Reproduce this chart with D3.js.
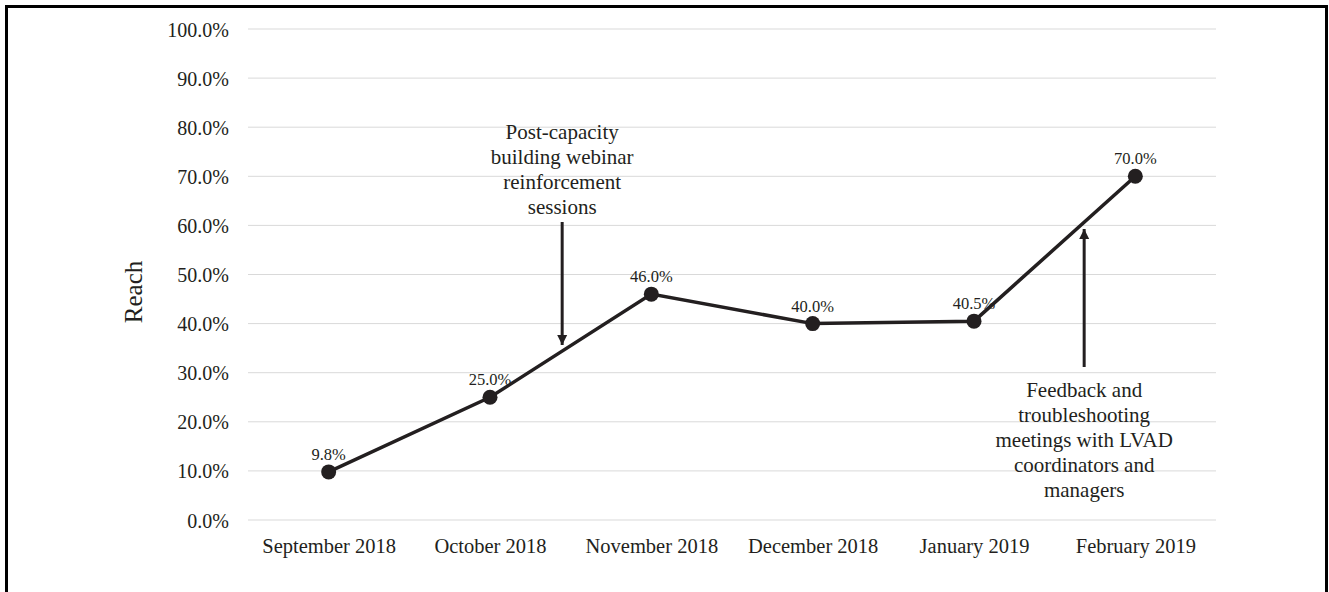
<!DOCTYPE html>
<html>
<head>
<meta charset="utf-8">
<script src="https://cdn.jsdelivr.net/npm/d3@7"></script>
<style>
  html, body { margin: 0; padding: 0; background: #fff; }
  svg { display: block; }
  text { font-family: "Liberation Serif", "Times New Roman", serif; fill: #231f20; }
</style>
</head>
<body>
<svg id="chart" width="1329" height="592"></svg>
<script>
const categories = ["September 2018", "October 2018", "November 2018", "December 2018", "January 2019", "February 2019"];
const reach = [9.8, 25.0, 46.0, 40.0, 40.5, 70.0];
const pointLabels = ["9.8%", "25.0%", "46.0%", "40.0%", "40.5%", "70.0%"];
const yTicks = [0, 10, 20, 30, 40, 50, 60, 70, 80, 90, 100];
const annotation1 = ["Post-capacity", "building webinar", "reinforcement", "sessions"];
const annotation2 = ["Feedback and", "troubleshooting", "meetings with LVAD", "coordinators and", "managers"];

const svg = d3.select("#chart");
const ink = "#231f20";

// outer frame
svg.append("rect").attr("x", 6.5).attr("y", 6.5).attr("width", 1320).attr("height", 600)
  .attr("fill", "none").attr("stroke", "#000").attr("stroke-width", 3);

const x = d3.scalePoint().domain(categories).range([248, 1216]).padding(0.5);
const y = d3.scaleLinear().domain([0, 100]).range([520, 29]);

// gridlines
svg.append("g").selectAll("line").data(yTicks).join("line")
  .attr("x1", 248).attr("x2", 1216)
  .attr("y1", d => y(d)).attr("y2", d => y(d))
  .attr("stroke", "#d9d9d9").attr("stroke-width", 1);

// y axis labels
const yAxis = d3.axisLeft(y).tickValues(yTicks).tickSize(0).tickPadding(0)
  .tickFormat(d => d.toFixed(1) + "%");
const gy = svg.append("g").attr("transform", "translate(229,0)").call(yAxis);
gy.select(".domain").remove();
gy.selectAll("text").attr("font-size", 20).attr("fill", ink)
  .attr("font-family", "Liberation Serif, serif").attr("dy", "0.35em");

// x axis labels
const xAxis = d3.axisBottom(x).tickSize(0).tickPadding(0);
const gx = svg.append("g").attr("transform", "translate(0,546)").call(xAxis);
gx.select(".domain").remove();
gx.selectAll("text").attr("font-size", 20.5).attr("fill", ink)
  .attr("font-family", "Liberation Serif, serif").attr("dy", "0.35em");

// y title
svg.append("text").attr("transform", "translate(133,292) rotate(-90)")
  .attr("text-anchor", "middle").attr("dy", "0.35em")
  .attr("font-size", 25).text("Reach");

// line
const line = d3.line().x((d, i) => x(categories[i])).y(d => y(d));
svg.append("path").datum(reach).attr("d", line)
  .attr("fill", "none").attr("stroke", ink).attr("stroke-width", 3.5);

// points
svg.append("g").selectAll("circle").data(reach).join("circle")
  .attr("cx", (d, i) => x(categories[i])).attr("cy", d => y(d)).attr("r", 7.5)
  .attr("fill", ink);

// point labels
svg.append("g").selectAll("text").data(reach).join("text")
  .attr("x", (d, i) => x(categories[i])).attr("y", d => y(d) - 12)
  .attr("text-anchor", "middle").attr("font-size", 16.5)
  .text((d, i) => pointLabels[i]);

// arrow markers
const defs = svg.append("defs");
defs.append("marker").attr("id", "arrow").attr("viewBox", "0 0 10 10")
  .attr("refX", 10).attr("refY", 5).attr("markerWidth", 10).attr("markerHeight", 12)
  .attr("markerUnits", "userSpaceOnUse").attr("orient", "auto")
  .append("path").attr("d", "M0,0 L10,5 L0,10 Z").attr("fill", ink);

// annotation 1
const a1x = (x(categories[1]) + x(categories[2])) / 2 - 8.5;
const a1 = svg.append("text").attr("text-anchor", "middle").attr("font-size", 21);
annotation1.forEach((t, i) => a1.append("tspan").attr("x", a1x).attr("y", 132 + i * 25).attr("dy", "0.35em").text(t));
svg.append("line").attr("x1", a1x).attr("x2", a1x).attr("y1", 222).attr("y2", 345)
  .attr("stroke", ink).attr("stroke-width", 3).attr("marker-end", "url(#arrow)");

// annotation 2
const a2x = (x(categories[4]) + x(categories[5])) / 2 + 29.5;
const a2 = svg.append("text").attr("text-anchor", "middle").attr("font-size", 21);
annotation2.forEach((t, i) => a2.append("tspan").attr("x", a2x).attr("y", 390 + i * 25).attr("dy", "0.35em").text(t));
svg.append("line").attr("x1", a2x).attr("x2", a2x).attr("y1", 367).attr("y2", 229)
  .attr("stroke", ink).attr("stroke-width", 3).attr("marker-end", "url(#arrow)");
</script>
</body>
</html>
